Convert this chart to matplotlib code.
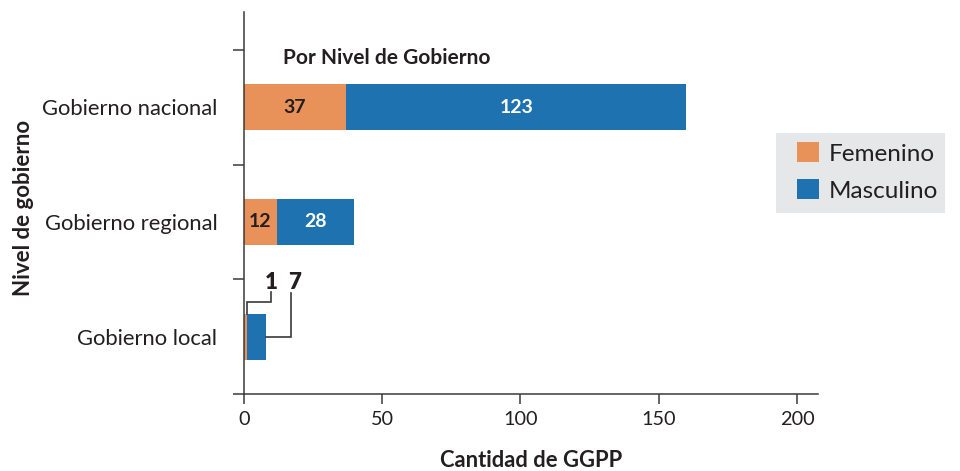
import matplotlib
matplotlib.use("Agg")
import matplotlib.pyplot as plt
from matplotlib.patches import Rectangle

plt.rcParams["font.family"] = ["Lato", "DejaVu Sans"]

# data
niveles = ["Gobierno local", "Gobierno regional", "Gobierno nacional"]
femenino = [1, 12, 37]
masculino = [7, 28, 123]
x_ticks = [0, 50, 100, 150, 200]

C_FEM = "#E89158"
C_MAS = "#1F72B0"
DARK = "#231F20"
AXC = "#3A3A3A"

fig = plt.figure(figsize=(9.6, 4.71), dpi=100)
ax = fig.add_axes([0.254, 0.1635, 0.598, 0.811])

ypos = list(range(len(niveles)))
bh = 0.4
ax.barh(ypos, femenino, height=bh, color=C_FEM, label="Femenino")
ax.barh(ypos, masculino, left=femenino, height=bh, color=C_MAS, label="Masculino")

# value labels inside the bars (only where there is room)
for y, f, m in zip(ypos, femenino, masculino):
    if f >= 10:
        ax.text(f / 2, y, str(f), ha="center", va="center", fontsize=14,
                fontweight="bold", color=DARK)
        ax.text(f + m / 2, y, str(m), ha="center", va="center", fontsize=14,
                fontweight="bold", color="white")

# small bar: labels with leader lines
f, m, y = femenino[0], masculino[0], ypos[0]
ax.text(10.0, y + 0.47, str(f), ha="center", va="center", fontsize=16,
        fontweight="heavy", color=DARK)
ax.plot([10.0, 10.0, 1.3, 1.3], [y + 0.39, y + 0.305, y + 0.305, y + bh / 2],
        color=AXC, lw=1.2, solid_joinstyle="miter")
ax.text(18.4, y + 0.47, str(m), ha="center", va="center", fontsize=16,
        fontweight="heavy", color=DARK)
ax.plot([17.0, 17.0, f + m], [y + 0.38, y, y], color=AXC, lw=1.2,
        solid_joinstyle="miter")

ax.text(14.1, 2.43, "Por Nivel de Gobierno", ha="left", va="center",
        fontsize=15, fontweight="bold", color=DARK)

ax.set_xlim(0, 207.6)
ax.set_ylim(-0.5, 2.83)

ax.set_xticks(x_ticks)
ax.tick_params(axis="x", length=7, width=1.1, color=AXC, labelsize=14.3,
               labelcolor=DARK, pad=5)

# ticks between categories, labels at centers
ax.set_yticks([-0.5, 0.5, 1.5, 2.5])
ax.set_yticklabels([])
ax.set_yticks(ypos, minor=True)
ax.set_yticklabels(niveles, minor=True)
ax.tick_params(axis="y", which="major", length=8, width=1.1, color=AXC)
ax.tick_params(axis="y", which="minor", length=0, labelsize=15.8,
               labelcolor=DARK, pad=19)

for s in ["top", "right"]:
    ax.spines[s].set_visible(False)
for s in ["left", "bottom"]:
    ax.spines[s].set_color(AXC)
    ax.spines[s].set_linewidth(1.1)

ax.set_xlabel("Cantidad de GGPP", fontsize=15.8, fontweight="bold", color=DARK,
              labelpad=16)
ax.set_ylabel("Nivel de gobierno", fontsize=16, fontweight="bold", color=DARK)
ax.yaxis.set_label_coords(-0.366, 0.487)

# legend on a grey box
fig.patches.append(Rectangle((0.8083, 0.5478), 0.176, 0.170,
                             transform=fig.transFigure, facecolor="#E6E7E8",
                             edgecolor="none", zorder=0))
leg = fig.legend(loc="upper left", bbox_to_anchor=(0.830, 0.698), fontsize=17.5,
                 frameon=False, handlelength=0.9, handleheight=0.9,
                 borderpad=0, labelspacing=0.6, handletextpad=0.4,
                 borderaxespad=0)
for t in leg.get_texts():
    t.set_color(DARK)

fig.savefig("out.png", dpi=100)
